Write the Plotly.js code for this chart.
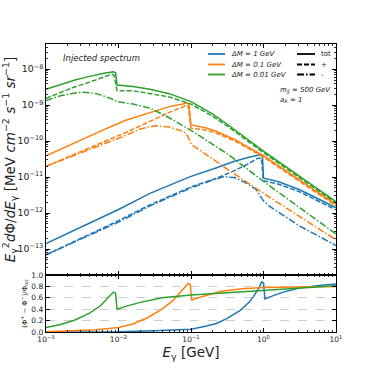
<!DOCTYPE html>
<html><head><meta charset="utf-8">
<script src="https://cdn.plot.ly/plotly-3.0.1.min.js"></script>
<style>html,body{margin:0;padding:0;background:#fff}#chart{width:374px;height:374px}</style>
</head><body><div id="chart"></div>
<script>
// ---------- data ----------
const energyTicks = [0.001, 0.01, 0.1, 1, 10];
const energyTickText = ['10<sup>−3</sup>', '10<sup>−2</sup>', '10<sup>−1</sup>', '10<sup>0</sup>', '10<sup>1</sup>'];
const massLabels = ['ΔM = 1 GeV', 'ΔM = 0.1 GeV', 'ΔM = 0.01 GeV'];
const componentLabels = ['tot', '+', '-'];
const ratioTicks = [0, 0.2, 0.4, 0.6, 0.8, 1.0];

// ΔM = 1 GeV
const blueTotE = [0.001, 0.003162, 0.01, 0.027164, 0.1, 0.225944, 0.398107, 0.630957, 0.895365, 0.966051, 1, 1.584893, 3.162278, 10];
const blueTotFlux = [1.413e-13, 4.169e-13, 1.259e-12, 3.548e-12, 1.047e-11, 1.820e-11, 2.754e-11, 3.548e-11, 4.169e-11, 3.981e-11, 9.333e-12, 7.586e-12, 4.467e-12, 1.413e-12];
const bluePlusE = [0.001, 0.003162, 0.01, 0.027164, 0.1, 0.225944, 0.398107, 0.630957, 0.822243, 0.933254, 1, 1.584893, 3.162278, 10];
const bluePlusFlux = [6.918e-14, 2.042e-13, 6.166e-13, 1.698e-12, 5.370e-12, 9.333e-12, 1.514e-11, 2.399e-11, 3.311e-11, 3.388e-11, 7.943e-12, 6.457e-12, 3.890e-12, 1.230e-12];
const blueMinusE = [0.001, 0.003162, 0.01, 0.027164, 0.1, 0.199526, 0.279254, 0.398107, 0.586138, 0.794328, 0.895365, 1, 1.230269, 3.162278, 10];
const blueMinusFlux = [6.918e-14, 1.995e-13, 5.623e-13, 1.585e-12, 5.012e-12, 8.318e-12, 1.023e-11, 9.772e-12, 6.761e-12, 4.467e-12, 3.020e-12, 2.188e-12, 1.514e-12, 4.365e-13, 1.259e-13];

// ΔM = 0.1 GeV
const orangeTotE = [0.001, 0.002512, 0.006310, 0.012589, 0.027164, 0.050119, 0.079433, 0.087096, 0.093325, 0.1, 0.158489, 0.225944, 0.398107, 0.630957, 1, 3.162278, 10];
const orangeTotFlux = [3.890e-11, 9.120e-11, 2.089e-10, 3.802e-10, 6.310e-10, 9.120e-10, 1.096e-9, 1.148e-9, 1.096e-9, 2.818e-10, 2.344e-10, 1.862e-10, 1.122e-10, 6.761e-11, 3.981e-11, 8.318e-12, 1.738e-12];
const orangePlusE = [0.001, 0.002512, 0.006310, 0.012589, 0.027164, 0.050119, 0.079433, 0.085310, 0.091201, 0.1, 0.158489, 0.225944, 0.398107, 0.630957, 1, 3.162278, 10];
const orangePlusFlux = [1.995e-11, 4.365e-11, 9.550e-11, 1.738e-10, 3.548e-10, 6.310e-10, 9.120e-10, 1.023e-9, 9.550e-10, 2.291e-10, 2.042e-10, 1.660e-10, 1.023e-10, 6.166e-11, 3.631e-11, 7.586e-12, 1.585e-12];
const orangeMinusE = [0.001, 0.002512, 0.006310, 0.012589, 0.019953, 0.031623, 0.050119, 0.078343, 0.089125, 0.102329, 0.125893, 0.316228, 1, 3.162278, 10];
const orangeMinusFlux = [1.995e-11, 4.074e-11, 8.318e-11, 1.445e-10, 2.188e-10, 2.692e-10, 2.455e-10, 1.862e-10, 1.413e-10, 7.943e-11, 6.026e-11, 1.660e-11, 3.548e-12, 7.943e-13, 1.820e-13];

// ΔM = 0.01 GeV
const greenTotE = [0.001, 0.001585, 0.002512, 0.003981, 0.006310, 0.008511, 0.009120, 0.009550, 0.015849, 0.027164, 0.050119, 0.1, 0.199526, 0.316228, 1, 3.162278, 10];
const greenTotFlux = [2.754e-9, 3.802e-9, 5.012e-9, 6.310e-9, 7.762e-9, 8.414e-9, 7.943e-9, 3.631e-9, 3.311e-9, 2.754e-9, 2.089e-9, 1.259e-9, 5.623e-10, 2.951e-10, 5.248e-11, 1.047e-11, 2.089e-12];
const greenPlusE = [0.001, 0.001585, 0.002512, 0.003981, 0.006310, 0.008054, 0.008710, 0.009550, 0.015849, 0.027164, 0.050119, 0.1, 0.199526, 0.316228, 1, 3.162278, 10];
const greenPlusFlux = [1.549e-9, 2.291e-9, 3.236e-9, 4.365e-9, 6.026e-9, 7.244e-9, 6.761e-9, 2.512e-9, 2.512e-9, 2.138e-9, 1.698e-9, 1.072e-9, 4.898e-10, 2.630e-10, 4.786e-11, 9.550e-12, 1.905e-12];
const greenMinusE = [0.001, 0.001585, 0.002512, 0.003273, 0.005012, 0.007943, 0.009441, 0.015849, 0.027164, 0.050119, 0.1, 0.316228, 1, 3.162278, 10];
const greenMinusFlux = [1.349e-9, 1.820e-9, 2.188e-9, 2.291e-9, 2.089e-9, 1.514e-9, 1.259e-9, 1.072e-9, 8.318e-10, 4.467e-10, 1.995e-10, 4.467e-11, 7.586e-12, 1.413e-12, 2.630e-13];

// asymmetry (Φ+ − Φ−)/Φtot
const blueRatioE = [0.001, 0.01, 0.031623, 0.1, 0.158489, 0.223872, 0.316228, 0.478630, 0.630957, 0.724436, 0.870964, 0.944061, 1, 1.047129, 1.258925, 1.862087, 3.162278, 6.309573, 10];
const blueRatio = [0.0, 0.003, 0.02, 0.05, 0.10, 0.15, 0.24, 0.38, 0.52, 0.62, 0.78, 0.88, 0.86, 0.58, 0.62, 0.70, 0.77, 0.82, 0.84];
const orangeRatioE = [0.001, 0.002512, 0.005012, 0.01, 0.015849, 0.025119, 0.039811, 0.056234, 0.075858, 0.091201, 0.097724, 0.102329, 0.141254, 0.251189, 0.501187, 1, 3.162278, 10];
const orangeRatio = [0.005, 0.02, 0.04, 0.08, 0.14, 0.25, 0.40, 0.55, 0.74, 0.85, 0.83, 0.56, 0.62, 0.71, 0.76, 0.78, 0.79, 0.80];
const greenRatioE = [0.001, 0.001585, 0.002512, 0.003981, 0.005623, 0.007079, 0.008511, 0.009120, 0.009550, 0.012589, 0.019953, 0.039811, 0.1, 0.316228, 1, 3.162278, 10];
const greenRatio = [0.08, 0.13, 0.21, 0.33, 0.46, 0.59, 0.70, 0.68, 0.40, 0.45, 0.52, 0.60, 0.65, 0.69, 0.73, 0.77, 0.81];

// ---------- styling ----------
const C_BLUE = '#1f77b4', C_ORANGE = '#ff7f0e', C_GREEN = '#2ca02c';
const LW = 1.5;
const DASH = '5px,2px';
const DASHDOT = '7px,2px,1.5px,2px';
const FONT = 'DejaVu Sans, Liberation Sans, sans-serif';

function fluxTrace(x, y, color, dash) {
  return {x: x, y: y, xaxis: 'x2', yaxis: 'y2', type: 'scatter', mode: 'lines',
    line: {color: color, width: LW, dash: dash}, showlegend: false, hoverinfo: 'skip'};
}
function ratioTrace(x, y, color) {
  return {x: x, y: y, xaxis: 'x', yaxis: 'y', type: 'scatter', mode: 'lines',
    line: {color: color, width: LW}, showlegend: false, hoverinfo: 'skip'};
}

const traces = [
  fluxTrace(blueTotE, blueTotFlux, C_BLUE, 'solid'),
  fluxTrace(bluePlusE, bluePlusFlux, C_BLUE, DASH),
  fluxTrace(blueMinusE, blueMinusFlux, C_BLUE, DASHDOT),
  fluxTrace(orangeTotE, orangeTotFlux, C_ORANGE, 'solid'),
  fluxTrace(orangePlusE, orangePlusFlux, C_ORANGE, DASH),
  fluxTrace(orangeMinusE, orangeMinusFlux, C_ORANGE, DASHDOT),
  fluxTrace(greenTotE, greenTotFlux, C_GREEN, 'solid'),
  fluxTrace(greenPlusE, greenPlusFlux, C_GREEN, DASH),
  fluxTrace(greenMinusE, greenMinusFlux, C_GREEN, DASHDOT),
  ratioTrace(blueRatioE, blueRatio, C_BLUE),
  ratioTrace(orangeRatioE, orangeRatio, C_ORANGE),
  ratioTrace(greenRatioE, greenRatio, C_GREEN)
];

// pixel helpers for the hand-made legend (plot area: x 46..336, y 44..332)
const PL = 46, PW = 290, PB = 332, PH = 288;
const px = v => (v - PL) / PW;
const py = v => (PB - v) / PH;

const legendRows = [54, 64.5, 74.5];
const massColors = [C_BLUE, C_ORANGE, C_GREEN];
const compDash = ['solid', DASH, DASHDOT];
const shapes = [];
const annotations = [];
legendRows.forEach((row, i) => {
  shapes.push({type: 'line', xref: 'paper', yref: 'paper', x0: px(208), x1: px(225), y0: py(row), y1: py(row),
    line: {color: massColors[i], width: 1.8}});
  shapes.push({type: 'line', xref: 'paper', yref: 'paper', x0: px(297), x1: px(315), y0: py(row), y1: py(row),
    line: {color: 'black', width: 1.8, dash: compDash[i]}});
  annotations.push({xref: 'paper', yref: 'paper', x: px(229), y: py(row), xanchor: 'left', yanchor: 'middle',
    text: '<i>' + massLabels[i] + '</i>', showarrow: false, font: {family: FONT, size: 7, color: '#222'}});
  annotations.push({xref: 'paper', yref: 'paper', x: px(319), y: py(row), xanchor: 'left', yanchor: 'middle',
    text: componentLabels[i], showarrow: false, font: {family: FONT, size: 7, color: '#222'}});
});
annotations.push({xref: 'paper', yref: 'paper', x: px(61), y: py(58), xanchor: 'left', yanchor: 'middle',
  text: '<i>Injected spectrum</i>', showarrow: false, font: {family: FONT, size: 8.5, color: '#222'}});
annotations.push({xref: 'paper', yref: 'paper', x: px(278), y: py(90), xanchor: 'left', yanchor: 'middle',
  text: '<i>m<sub>χ̃</sub> = 500 GeV</i>', showarrow: false, font: {family: FONT, size: 7, color: '#222'}});
annotations.push({xref: 'paper', yref: 'paper', x: px(278), y: py(100), xanchor: 'left', yanchor: 'middle',
  text: '<i>a<sub>R</sub> = 1</i>', showarrow: false, font: {family: FONT, size: 7, color: '#222'}});

const tickFont = {family: FONT, size: 7.5, color: '#222'};
const minorLog = {dtick: 'D1', ticks: 'inside', ticklen: 2, tickwidth: 0.8, tickcolor: 'black', showgrid: false};
const split = 57 / 288;

const layout = {
  width: 374, height: 374,
  margin: {l: 46, r: 38, t: 44, b: 42},
  paper_bgcolor: 'white', plot_bgcolor: 'white',
  font: {family: FONT, color: '#222'},
  showlegend: false,
  xaxis: {type: 'log', range: [-3, 1], domain: [0, 1], anchor: 'y',
    tickmode: 'array', tickvals: energyTicks, ticktext: energyTickText,
    ticks: 'inside', ticklen: 4, tickwidth: 1, tickcolor: 'black', mirror: 'ticks',
    showline: true, linecolor: 'black', linewidth: 1.2, showgrid: false, zeroline: false,
    tickfont: tickFont, minor: minorLog,
    title: {text: '<i>E</i><sub>γ</sub> [GeV]', font: {family: FONT, size: 13.5, color: '#222'}, standoff: 3}},
  yaxis: {range: [0, 1], domain: [0, split], anchor: 'x',
    tickmode: 'array', tickvals: ratioTicks, tickformat: '.1f',
    ticks: 'inside', ticklen: 4, tickwidth: 1, tickcolor: 'black', mirror: 'ticks',
    showline: true, linecolor: 'black', linewidth: 1.2, zeroline: false,
    showgrid: true, gridcolor: '#b8b8b8', gridwidth: 0.7, griddash: 'dash',
    tickfont: tickFont,
    title: {text: '(Φ<sup>+</sup> − Φ<sup>−</sup>)/Φ<sub>tot</sub>', font: {family: FONT, size: 6.8, color: '#222'}, standoff: 3}},
  xaxis2: {type: 'log', range: [-3, 1], domain: [0, 1], anchor: 'y2', matches: 'x',
    tickmode: 'array', tickvals: energyTicks, showticklabels: false,
    ticks: 'inside', ticklen: 4, tickwidth: 1, tickcolor: 'black', mirror: 'ticks',
    showline: true, linecolor: 'black', linewidth: 1.2, showgrid: false, zeroline: false,
    minor: minorLog},
  yaxis2: {type: 'log', range: [-13.72, -7.3], domain: [split, 1], anchor: 'x2',
    dtick: 1, exponentformat: 'power',
    ticks: 'inside', ticklen: 4, tickwidth: 1, tickcolor: 'black', mirror: 'ticks',
    showline: true, linecolor: 'black', linewidth: 1.2, showgrid: false, zeroline: false,
    tickfont: tickFont, minor: minorLog,
    title: {text: '<i>E</i><sub>γ</sub><sup>2</sup><i>d</i>Φ/<i>dE</i><sub>γ</sub> [MeV <i>cm</i><sup>−2</sup> <i>s</i><sup>−1</sup> <i>sr</i><sup>−1</sup>]',
      font: {family: FONT, size: 13.5, color: '#222'}, standoff: 1}},
  shapes: shapes,
  annotations: annotations
};

Plotly.newPlot('chart', traces, layout, {staticPlot: true, displayModeBar: false});
</script>
</body></html>
